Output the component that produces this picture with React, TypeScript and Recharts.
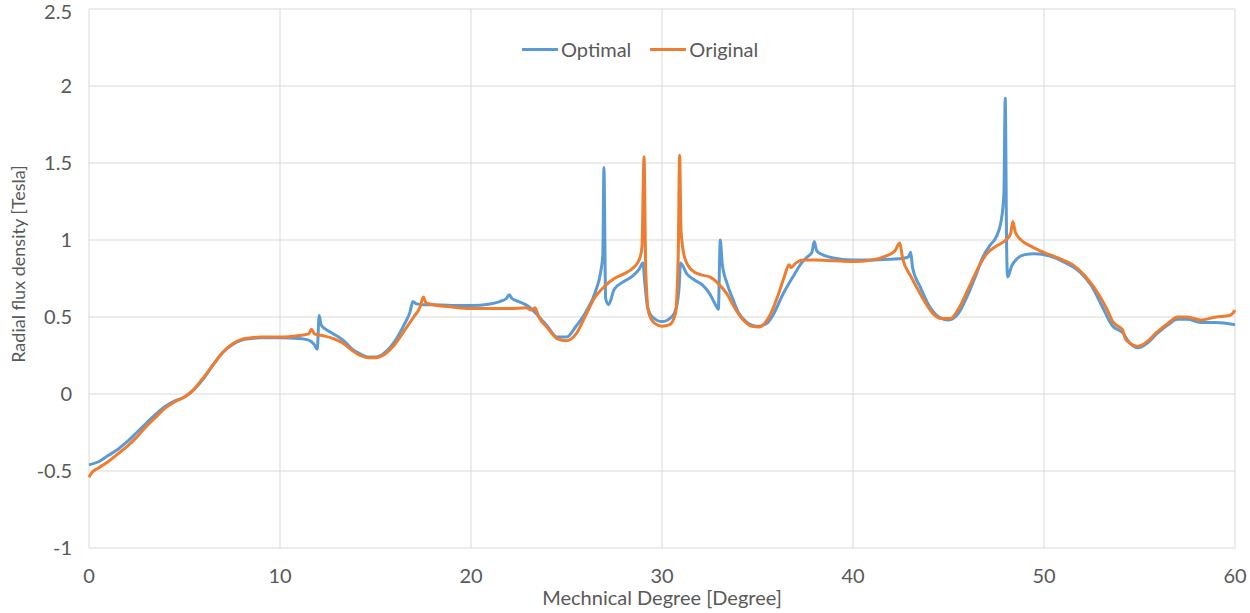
import { CartesianGrid, Label, Line, LineChart, XAxis, YAxis } from "recharts";

// Mechanical degree / radial flux density.
const optimalDeg = [
  0, 0.5, 1, 1.5, 2, 2.5, 3, 3.5, 4, 4.5, 5, 5.5, 6, 6.5, 7, 7.5, 8, 8.5, 9, 10, 11, 11.5, 11.8, 11.95,
  12.05, 12.15, 12.4, 12.8, 13.3, 13.8, 14.2, 14.6, 15, 15.5, 16, 16.5, 16.8, 16.96, 17.15, 17.5, 18, 19,
  20, 21, 21.5, 21.85, 22.0, 22.15, 22.5, 23, 23.5, 24, 24.5, 25, 25.5, 26, 26.5, 26.8, 26.9, 26.96, 27.05,
  27.2, 27.5, 28, 28.5, 28.8, 29.0, 29.1, 29.25, 29.5, 30, 30.5, 30.75, 30.9, 30.97, 31.3, 31.7, 32.1, 32.5,
  32.8, 32.95, 33.05, 33.15, 33.4, 33.7, 34, 34.4, 35, 35.5, 35.8, 36.3, 36.9, 37.3, 37.6, 37.85, 37.97,
  38.1, 38.3, 38.9, 40, 41, 42, 42.6, 42.9, 43.02, 43.12, 43.5, 44, 44.5, 45, 45.5, 46, 46.4, 46.8, 47.2,
  47.5, 47.75, 47.9, 47.97, 48.05, 48.1, 48.3, 48.6, 49, 49.5, 50.3, 51, 51.9, 52.5, 53, 53.6, 54.1, 54.5,
  54.9, 55.4, 55.9, 56.5, 57, 57.5, 58.2, 59, 60,
];
const optimalFlux = [
  -0.46, -0.44, -0.4, -0.36, -0.31, -0.25, -0.19, -0.13, -0.08, -0.045, -0.02, 0.03, 0.1, 0.19, 0.27, 0.32,
  0.35, 0.36, 0.365, 0.365, 0.36, 0.35, 0.32, 0.29, 0.51, 0.45, 0.42, 0.39, 0.35, 0.29, 0.26, 0.24, 0.24,
  0.27, 0.34, 0.45, 0.53, 0.6, 0.585, 0.58, 0.58, 0.575, 0.575, 0.585, 0.6, 0.62, 0.645, 0.62, 0.6, 0.57,
  0.51, 0.44, 0.37, 0.37, 0.44, 0.53, 0.66, 0.8, 0.9, 1.47, 0.62, 0.58, 0.68, 0.73, 0.77, 0.81, 0.85, 0.72,
  0.56, 0.5, 0.47, 0.5, 0.56, 0.7, 0.85, 0.78, 0.74, 0.71, 0.65, 0.58, 0.55, 1.0, 0.85, 0.72, 0.62, 0.53,
  0.47, 0.44, 0.46, 0.51, 0.64, 0.77, 0.85, 0.89, 0.92, 0.99, 0.93, 0.91, 0.885, 0.87, 0.87, 0.875, 0.88,
  0.89, 0.92, 0.82, 0.7, 0.57, 0.5, 0.48, 0.52, 0.64, 0.76, 0.89, 0.97, 1.02, 1.12, 1.3, 1.92, 0.9, 0.76,
  0.83, 0.88, 0.905, 0.91, 0.895, 0.86, 0.79, 0.7, 0.58, 0.44, 0.4, 0.33, 0.3, 0.33, 0.39, 0.45, 0.485,
  0.485, 0.465, 0.465, 0.45,
];

const originalDeg = [
  0, 0.15, 0.5, 1, 1.5, 2, 2.5, 3, 3.5, 4, 4.5, 5, 5.5, 5.85, 5.95, 6.5, 7, 7.5, 8, 8.5, 9, 10, 11, 11.5,
  11.65, 11.8, 12.2, 12.8, 13.3, 13.8, 14.2, 14.6, 15, 15.5, 16, 16.5, 17, 17.35, 17.5, 17.65, 18, 19, 20,
  21, 22, 22.9, 23.15, 23.35, 23.55, 24, 24.5, 25, 25.5, 26, 26.5, 27, 27.5, 28, 28.5, 28.8, 28.95, 29.06,
  29.15, 29.3, 29.6, 30, 30.4, 30.7, 30.85, 30.92, 31.0, 31.2, 31.6, 32, 32.5, 33, 33.4, 33.8, 34.25, 34.7,
  35.1, 35.5, 35.8, 36.1, 36.4, 36.65, 36.75, 37, 37.4, 38, 39, 40, 41, 41.8, 42.2, 42.45, 42.6, 43, 43.3,
  43.8, 44.2, 44.6, 45.1, 45.6, 46.1, 46.6, 47, 47.5, 48, 48.25, 48.37, 48.5, 48.8, 49.3, 49.8, 50.8, 51.5,
  52.2, 52.9, 53.3, 53.6, 54.0, 54.1, 54.3, 54.9, 55.4, 55.9, 56.5, 57, 57.5, 58.2, 59, 59.7, 59.85, 60,
];
const originalFlux = [
  -0.54, -0.51, -0.48, -0.44, -0.39, -0.34, -0.28, -0.21, -0.15, -0.09, -0.05, -0.02, 0.03, 0.085, 0.1,
  0.19, 0.27, 0.325, 0.355, 0.365, 0.37, 0.37, 0.38, 0.39, 0.42, 0.39, 0.38, 0.36, 0.33, 0.28, 0.25, 0.235,
  0.235, 0.26, 0.32, 0.41, 0.5, 0.57, 0.63, 0.59, 0.58, 0.565, 0.555, 0.555, 0.555, 0.56, 0.545, 0.56, 0.5,
  0.43, 0.36, 0.345, 0.39, 0.51, 0.63, 0.7, 0.75, 0.78, 0.82, 0.87, 0.95, 1.54, 0.8, 0.53, 0.46, 0.44, 0.45,
  0.52, 0.9, 1.55, 1.05, 0.88, 0.8, 0.775, 0.76, 0.71, 0.65, 0.56, 0.48, 0.44, 0.435, 0.48, 0.55, 0.65,
  0.76, 0.84, 0.82, 0.85, 0.87, 0.87, 0.865, 0.86, 0.87, 0.9, 0.93, 0.98, 0.88, 0.77, 0.7, 0.59, 0.52, 0.49,
  0.49, 0.57, 0.7, 0.83, 0.91, 0.96, 1.0, 1.04, 1.12, 1.05, 1.0, 0.96, 0.93, 0.88, 0.84, 0.76, 0.64, 0.55,
  0.47, 0.43, 0.42, 0.35, 0.31, 0.34, 0.4, 0.46, 0.5, 0.5, 0.48, 0.5, 0.51, 0.52, 0.545,
];

const xTicks = [0, 10, 20, 30, 40, 50, 60];
const yTicks = [-1, -0.5, 0, 0.5, 1, 1.5, 2, 2.5];

const optimalData = optimalDeg.map((x, i) => ({ x, y: optimalFlux[i] }));
const originalData = originalDeg.map((x, i) => ({ x, y: originalFlux[i] }));

const FONT = "Lato, 'Noto Sans', sans-serif";
const TEXT = "#595959";
const BLUE = "#5B9BD5";
const ORANGE = "#ED7D31";

const legendItems = [
  { name: "Optimal", color: BLUE },
  { name: "Original", color: ORANGE },
];

// Legend sits inside the plot area, so it is overlaid instead of reserving space.
function ChartLegend() {
  return (
    <div
      style={{
        position: "absolute",
        top: 37,
        left: 522,
        display: "flex",
        fontFamily: FONT,
        fontSize: 20,
        lineHeight: "24px",
        color: TEXT,
      }}
    >
      {legendItems.map((item) => (
        <div key={item.name} style={{ display: "flex", alignItems: "center", marginRight: 19 }}>
          <span style={{ display: "inline-block", width: 36, height: 3, background: item.color, marginRight: 3 }} />
          <span>{item.name}</span>
        </div>
      ))}
    </div>
  );
}

export default function App() {
  return (
    <div style={{ position: "fixed", left: 0, top: 0, width: 1250, height: 613, background: "#fff" }}>
      <LineChart width={1250} height={613} margin={{ top: 9, right: 15, bottom: 35, left: 0 }}>
        <CartesianGrid stroke="#d9d9d9" strokeWidth={1} />
        <XAxis
          type="number"
          dataKey="x"
          domain={[0, 60]}
          ticks={xTicks}
          axisLine={false}
          tickLine={false}
          tickMargin={15}
          tick={{ fill: TEXT, fontSize: 20, fontFamily: FONT }}
          allowDuplicatedCategory={false}
        >
          <Label
            content={() => (
              <text x={662} y={605} textAnchor="middle" fill={TEXT} fontSize={20} fontFamily={FONT}>
                Mechnical Degree [Degree]
              </text>
            )}
          />
        </XAxis>
        <YAxis
          type="number"
          domain={[-1, 2.5]}
          ticks={yTicks}
          width={89}
          axisLine={false}
          tickLine={false}
          tickMargin={11}
          tick={{ fill: TEXT, fontSize: 20, fontFamily: FONT }}
        >
          <Label
            content={() => (
              <text
                x={25}
                y={264}
                transform="rotate(-90 25 264)"
                textAnchor="middle"
                fill={TEXT}
                fontSize={18}
                fontFamily={FONT}
              >
                Radial flux density [Tesla]
              </text>
            )}
          />
        </YAxis>
        <Line
          data={optimalData}
          dataKey="y"
          name="Optimal"
          type="monotoneX"
          stroke={BLUE}
          strokeWidth={3}
          dot={false}
          isAnimationActive={false}
        />
        <Line
          data={originalData}
          dataKey="y"
          name="Original"
          type="monotoneX"
          stroke={ORANGE}
          strokeWidth={3}
          dot={false}
          isAnimationActive={false}
        />
      </LineChart>
      <ChartLegend />
    </div>
  );
}
